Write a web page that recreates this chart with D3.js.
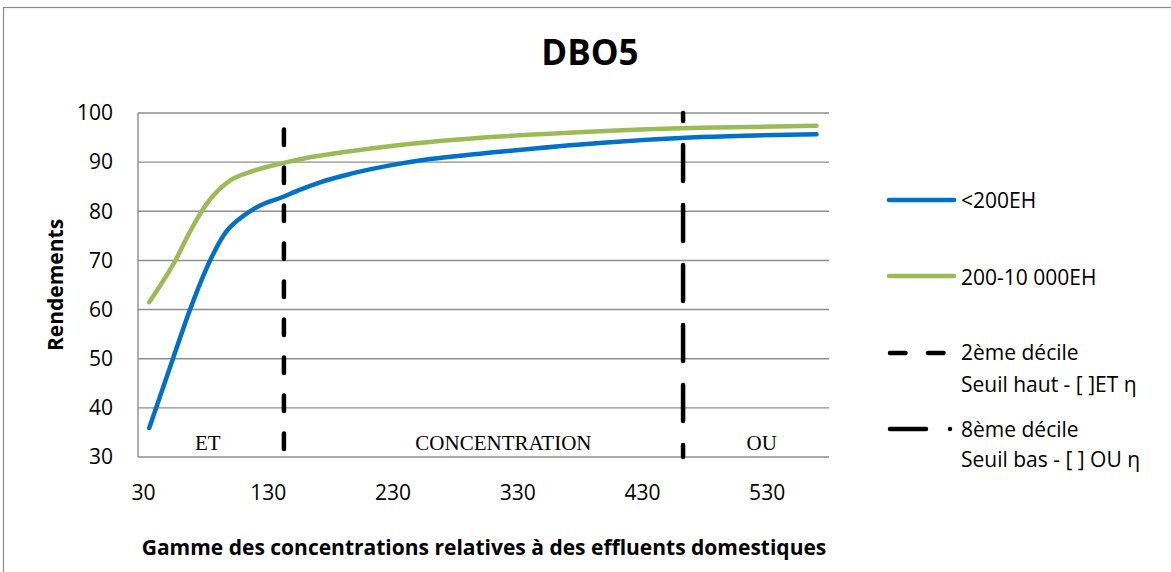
<!DOCTYPE html>
<html>
<head>
<meta charset="utf-8">
<script src="https://cdn.jsdelivr.net/npm/d3@7"></script>
<style>
  body { margin: 0; background: #fff; }
  svg { font-family: "Open Sans", "Noto Sans", sans-serif; }
</style>
</head>
<body>
<svg id="chart" width="1171" height="572"></svg>
<script>
// data
var xSmall = [35, 54, 68, 84, 96, 108, 121, 142, 156, 172, 196, 236, 256, 316, 396, 477, 570];
var ySmall = [35.9, 50, 60.2, 70.1, 75.6, 78.6, 80.8, 82.9, 84.4, 85.9, 87.6, 89.7, 90.5, 92.1, 93.9, 95.1, 95.7];

var xMid = [35, 56, 68, 81, 100, 116, 142, 160, 190, 236, 316, 396, 477, 570];
var yMid = [61.5, 70, 76, 81.5, 86.3, 88, 89.8, 90.8, 92, 93.5, 95.2, 96.3, 97, 97.4];

var decile2 = 143;
var decile8 = 463;

var xTicks = [30, 130, 230, 330, 430, 530];
var yTicks = [30, 40, 50, 60, 70, 80, 90, 100];

var zoneLabels = ["ET", "CONCENTRATION", "OU"];
var zoneX = [82, 319, 526];

var seriesNames = ["<200EH", "200-10 000EH"];
var seriesColors = ["#0070C8", "#9BBB59"];

var svg = d3.select("#chart");

// margins of the plot area
var margin_l = 138, margin_r = 1171 - 829, margin_t = 113, margin_b = 572 - 457;

var xScale = d3.scaleLinear()
  .domain([26, 580])
  .range([margin_l, 1171 - margin_r]);

var yScale = d3.scaleLinear()
  .domain([30, 100])
  .range([572 - margin_b, margin_t]);

// outer frame
svg.append("rect")
  .attr("x", 3.5).attr("y", 7.5)
  .attr("width", 1200).attr("height", 600)
  .attr("fill", "none")
  .attr("stroke", "#8c8c8c")
  .attr("stroke-width", 1.2);

// gridlines
svg.append("g")
  .selectAll("line")
  .data(yTicks)
  .enter().append("line")
  .attr("x1", margin_l)
  .attr("x2", 1171 - margin_r)
  .attr("y1", function(d) { return yScale(d); })
  .attr("y2", function(d) { return yScale(d); })
  .attr("stroke", "#8e8e8e")
  .attr("stroke-width", 1.4);

// y axis line
svg.append("line")
  .attr("x1", margin_l).attr("x2", margin_l)
  .attr("y1", yScale(100)).attr("y2", yScale(30))
  .attr("stroke", "#8e8e8e")
  .attr("stroke-width", 1.4);

// axes (labels only)
var yAxis = svg.append("g")
  .attr("transform", "translate(" + (margin_l - 4) + ",0)")
  .call(d3.axisLeft(yScale).tickValues(yTicks).tickSize(0).tickPadding(21));
yAxis.select(".domain").remove();
yAxis.selectAll("text")
  .style("font-size", "21px")
  .style("font-family", "Open Sans, sans-serif")
  .attr("fill", "#000");

var xAxis = svg.append("g")
  .attr("transform", "translate(0," + (572 - margin_b) + ")")
  .call(d3.axisBottom(xScale).tickValues(xTicks).tickSize(0).tickPadding(28));
xAxis.select(".domain").remove();
xAxis.selectAll("text")
  .style("font-size", "21px")
  .style("font-family", "Open Sans, sans-serif")
  .attr("fill", "#000");

// zone labels
svg.append("g")
  .selectAll("text")
  .data(zoneLabels)
  .enter().append("text")
  .attr("x", function(d, i) { return xScale(zoneX[i]); })
  .attr("y", 450)
  .attr("text-anchor", "middle")
  .style("font-family", "Liberation Serif, Times New Roman, serif")
  .style("font-size", "21px")
  .text(function(d) { return d; });

// decile lines
svg.append("line")
  .attr("x1", xScale(decile2)).attr("x2", xScale(decile2))
  .attr("y1", 129.5).attr("y2", yScale(30))
  .attr("stroke", "#000")
  .attr("stroke-width", 4.5)
  .attr("stroke-linecap", "round")
  .attr("stroke-dasharray", "15.5 22.5");

svg.append("line")
  .attr("x1", xScale(decile8)).attr("x2", xScale(decile8))
  .attr("y1", yScale(100)).attr("y2", yScale(30))
  .attr("stroke", "#000")
  .attr("stroke-width", 4.5)
  .attr("stroke-linecap", "round")
  .attr("stroke-dasharray", "36 24")
  .attr("stroke-dashoffset", 28);

// series curves
var line = d3.line()
  .x(function(d) { return xScale(d[0]); })
  .y(function(d) { return yScale(d[1]); })
  .curve(d3.curveMonotoneX);

var smallData = xSmall.map(function(x, i) { return [x, ySmall[i]]; });
var midData = xMid.map(function(x, i) { return [x, yMid[i]]; });

svg.append("path")
  .datum(smallData)
  .attr("d", line)
  .attr("fill", "none")
  .attr("stroke", seriesColors[0])
  .attr("stroke-width", 4.5)
  .attr("stroke-linecap", "round");

svg.append("path")
  .datum(midData)
  .attr("d", line)
  .attr("fill", "none")
  .attr("stroke", seriesColors[1])
  .attr("stroke-width", 4.5)
  .attr("stroke-linecap", "round");

// title
svg.append("text")
  .attr("x", 590).attr("y", 65)
  .attr("text-anchor", "middle")
  .style("font-size", "35px")
  .style("font-weight", "bold")
  .text("DBO5");

// y axis title
svg.append("text")
  .attr("transform", "translate(63,285) rotate(-90)")
  .attr("text-anchor", "middle")
  .style("font-size", "21px")
  .style("font-weight", "bold")
  .text("Rendements");

// x axis title
svg.append("text")
  .attr("x", 484).attr("y", 555)
  .attr("text-anchor", "middle")
  .style("font-size", "21px")
  .style("font-weight", "bold")
  .text("Gamme des concentrations relatives à des effluents domestiques");

// legend
var lg = svg.append("g").style("font-size", "21px");

[200, 276].forEach(function(y, i) {
  lg.append("line")
    .attr("x1", 889).attr("x2", 954)
    .attr("y1", y).attr("y2", y)
    .attr("stroke", seriesColors[i])
    .attr("stroke-width", 4.5)
    .attr("stroke-linecap", "round");
  lg.append("text")
    .attr("x", 961).attr("y", [208, 285][i])
    .text(seriesNames[i]);
});

lg.append("line")
  .attr("x1", 890).attr("x2", 946)
  .attr("y1", 353).attr("y2", 353)
  .attr("stroke", "#000")
  .attr("stroke-width", 4.5)
  .attr("stroke-linecap", "round")
  .attr("stroke-dasharray", "15.5 22.5");
lg.append("text").attr("x", 961).attr("y", 360).text("2ème décile");
lg.append("text").attr("x", 961).attr("y", 392).text("Seuil haut - [ ]ET η");

lg.append("line")
  .attr("x1", 890).attr("x2", 955)
  .attr("y1", 429).attr("y2", 429)
  .attr("stroke", "#000")
  .attr("stroke-width", 4.5)
  .attr("stroke-linecap", "round")
  .attr("stroke-dasharray", "36 24 0 10");
lg.append("text").attr("x", 961).attr("y", 437).text("8ème décile");
lg.append("text").attr("x", 961).attr("y", 467).text("Seuil bas - [ ] OU η");
</script>
</body>
</html>
